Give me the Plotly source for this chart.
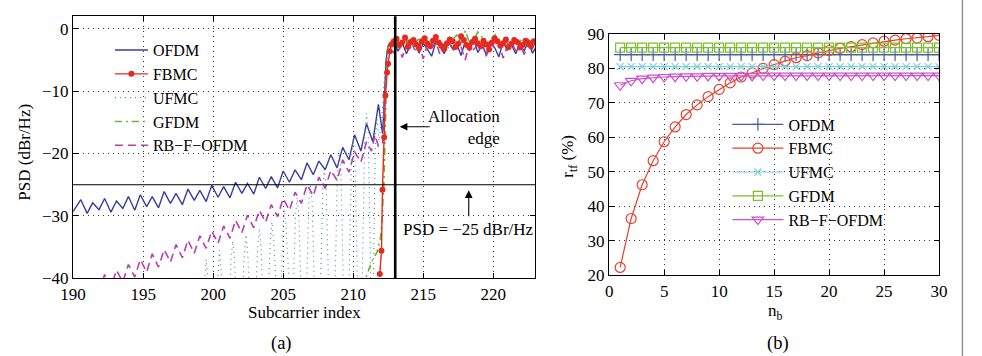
import plotly.graph_objects as go

FONT = "Liberation Serif"

# ---------------- panel (a): PSD vs subcarrier index ----------------
ofdm_x = [190.0, 190.55, 191.0, 191.4, 191.85, 192.25, 192.7, 193.1, 193.55, 193.95,
          194.4, 194.8, 195.25, 195.65, 196.1, 196.5, 196.95, 197.35, 197.8, 198.2,
          198.65, 199.05, 199.5, 199.9, 200.35, 200.75, 201.2, 201.6, 202.05, 202.45,
          202.9, 203.3, 203.75, 204.15, 204.6, 205.0, 205.45, 205.85, 206.3, 206.7,
          207.15, 207.55, 208.0, 208.4, 208.85, 209.25, 209.7, 210.1, 210.55, 210.95,
          211.4, 211.8, 212.1, 212.22, 212.35, 212.48]
ofdm_y = [-29.3, -27.4, -29.6, -27.9, -29.0, -27.2, -29.4, -27.6, -28.8, -26.9,
          -29.1, -26.6, -28.5, -26.9, -28.7, -26.1, -28.0, -26.4, -28.2, -25.7,
          -27.5, -25.9, -27.7, -25.1, -27.0, -25.3, -27.1, -24.6, -26.4, -24.8,
          -26.5, -23.8, -25.6, -23.7, -25.5, -22.8, -24.6, -22.6, -24.2, -21.5,
          -23.4, -21.2, -22.6, -20.2, -22.3, -19.0, -21.0, -17.0, -19.6, -15.2,
          -18.1, -12.1, -16.8, -11.0, -5.0, -2.8]

fbmc_x = [211.9, 212.02, 212.09, 212.21, 212.3, 212.42, 212.49, 212.61, 212.73,
          212.9, 213.1, 213.3, 213.5, 213.7, 213.9, 214.1, 214.3, 214.5, 214.7,
          214.9, 215.1, 215.3, 215.5, 215.7, 215.9, 216.1, 216.3, 216.5, 216.7,
          216.9, 217.1, 217.3, 217.5, 217.7, 217.9, 218.1, 218.3, 218.5, 218.7,
          218.9, 219.1, 219.3, 219.5, 219.7, 219.9, 220.1, 220.3, 220.5, 220.7,
          220.9, 221.1, 221.3, 221.5, 221.7, 221.9, 222.1, 222.3, 222.5, 222.7,
          222.9, 223.1]
fbmc_y = [-39.3, -35.6, -25.8, -17.4, -10.7, -7.0, -5.6, -3.6, -2.5,
          -2.0, -1.6, -2.6, -2.2, -1.4, -2.9, -2.1, -1.8, -2.5, -3.1,
          -2.0, -1.5, -2.4, -2.8, -1.9, -1.3, -2.2, -2.7, -3.2, -2.3,
          -1.7, -2.0, -2.9, -2.4, -1.2, -1.8, -2.6, -3.0, -2.1, -1.6,
          -2.3, -2.8, -1.9, -2.5, -3.3, -2.2, -1.5, -2.0, -2.7, -2.3,
          -1.7, -2.9, -2.4, -1.8, -2.1, -3.0, -2.6, -1.9, -2.2, -2.8,
          -2.0, -2.4]

ufmc_x = [199.12, 199.38, 199.5, 199.62, 199.88,
          200.07, 200.33, 200.45, 200.57, 200.83,
          201.02, 201.28, 201.4, 201.52, 201.78,
          201.97, 202.23, 202.35, 202.47, 202.73,
          202.92, 203.18, 203.3, 203.42, 203.68,
          203.82, 204.08, 204.2, 204.32, 204.58,
          204.72, 204.98, 205.1, 205.22, 205.48,
          205.62, 205.88, 206.0, 206.12, 206.38,
          206.57, 206.83, 206.95, 207.07, 207.33,
          207.57, 207.83, 207.95, 208.07, 208.33,
          208.62, 208.88, 209.0, 209.12, 209.38,
          209.62, 209.88, 210.0, 210.12, 210.38,
          210.57, 210.83, 210.95, 211.07, 211.33,
          211.42, 211.58, 211.7, 211.85, 212.05, 212.25, 212.42]
ufmc_y = [-50, -40.0, -37.0, -40.0, -50,
          -50, -38.5, -35.5, -38.5, -50,
          -50, -37.0, -34.0, -37.0, -50,
          -50, -36.0, -33.0, -36.0, -50,
          -50, -35.0, -32.0, -35.0, -50,
          -50, -34.0, -31.0, -34.0, -50,
          -50, -32.0, -29.0, -32.0, -50,
          -50, -30.0, -27.0, -30.0, -50,
          -50, -28.0, -25.0, -28.0, -50,
          -50, -25.5, -22.5, -25.5, -50,
          -50, -22.5, -19.5, -22.5, -50,
          -50, -20.5, -17.5, -20.5, -50,
          -50, -16.5, -13.5, -16.5, -50,
          -45, -17.5, -14.5, -18.0, -14.0, -7.0, -3.2]

gfdm_x = [210.7, 211.0, 211.35, 211.7, 211.95, 212.05, 212.2, 212.27, 212.39, 212.48]
gfdm_y = [-41.5, -39.3, -37.2, -35.8, -33.5, -31.0, -24.3, -17.3, -6.7, -3.2]

rbf_x = [191.4, 191.85, 192.25, 192.7, 193.1, 193.55, 193.95, 194.4, 194.8, 195.25,
         195.65, 196.1, 196.5, 196.95, 197.35, 197.8, 198.2, 198.65, 199.05, 199.5,
         199.9, 200.35, 200.75, 201.2, 201.6, 202.05, 202.45, 202.9, 203.3, 203.75,
         204.15, 204.6, 205.0, 205.45, 205.85, 206.3, 206.7, 207.15, 207.55, 208.0,
         208.4, 208.85, 209.25, 209.7, 210.1, 210.55, 210.95, 211.3, 211.55, 211.8,
         212.1, 212.25, 212.38, 212.5]
rbf_y = [-40.3, -42.2, -39.4, -41.4, -38.7, -40.6, -37.8, -39.8, -37.0, -39.0,
         -36.1, -38.2, -35.4, -37.4, -34.6, -36.7, -33.9, -36.0, -33.2, -35.2,
         -32.4, -34.4, -31.6, -33.6, -30.7, -32.7, -29.9, -31.9, -29.1, -31.0,
         -28.2, -30.1, -27.2, -29.1, -26.2, -28.0, -25.0, -26.8, -23.8, -25.6,
         -22.7, -24.3, -21.0, -23.0, -19.7, -21.4, -18.1, -19.6, -17.0, -18.8,
         -18.5, -11.0, -5.0, -2.9]

# in-band (allocated) part, shared grid
pass_x = [212.6, 212.9, 213.2, 213.5, 213.8, 214.1, 214.4, 214.7, 215.0, 215.3,
          215.6, 215.9, 216.2, 216.5, 216.8, 217.1, 217.4, 217.7, 218.0, 218.3,
          218.6, 218.9, 219.2, 219.5, 219.8, 220.1, 220.4, 220.7, 221.0, 221.3,
          221.6, 221.9, 222.2, 222.5, 222.8, 223.1]
ofdm_pass = [-2.4, -2.0, -3.6, -2.2, -4.0, -2.5, -1.8, -3.9, -2.3, -3.3,
             -4.4, -2.1, -2.8, -4.0, -1.9, -3.2, -2.4, -4.3, -2.0, -3.5,
             -1.7, -3.8, -2.6, -4.1, -2.2, -3.0, -4.5, -2.1, -3.4, -2.5,
             -4.0, -2.3, -3.6, -2.0, -3.9, -2.8]
ufmc_pass = [-2.6, -2.1, -3.0, -1.9, -2.7, -2.3, -1.7, -3.1, -2.2, -2.5,
             -1.8, -2.9, -2.0, -2.6, -1.6, -3.0, -2.3, -1.9, -2.7, -2.1,
             -1.5, -2.8, -2.4, -1.9, -2.6, -0.6, -2.2, -2.9, -1.8, -2.5,
             -2.0, -3.1, -2.3, -1.7, -2.6, -2.2]
gfdm_pass = [-2.3, -1.8, -2.9, -2.0, -1.5, -3.0, -2.2, -1.6, -2.6, -1.9,
             -2.8, -1.4, -2.4, -2.0, -3.1, -1.7, -1.0, -2.5, -0.3, -2.2,
             -1.8, -0.5, -1.3, -2.4, -1.9, -0.8, -2.6, -2.1, -1.5, -2.9,
             -2.0, -1.6, -2.7, -2.2, -1.8, -2.5]
rbf_pass = [-2.8, -3.9, -2.2, -4.6, -2.6, -1.9, -3.4, -2.3, -4.8, -2.5,
            -3.1, -2.0, -4.2, -2.7, -1.8, -3.6, -2.4, -2.9, -5.0, -2.2,
            -3.3, -2.6, -1.9, -4.4, -2.5, -3.0, -2.1, -4.7, -2.8, -2.2,
            -3.5, -2.0, -4.1, -2.6, -3.2, -2.4]

allocation_edge = 213
psd_threshold = -25

# ---------------- panel (b): r_tf vs n_b ----------------
nb = [1, 2, 3, 4, 5, 6, 7, 8, 9, 10, 11, 12, 13, 14, 15,
      16, 17, 18, 19, 20, 21, 22, 23, 24, 25, 26, 27, 28, 29, 30]
r_ofdm = [84.0, 84.0, 84.0, 84.0, 84.0, 84.0, 84.0, 84.0, 84.0, 84.0,
          84.0, 84.0, 84.0, 84.0, 84.0, 84.0, 84.0, 84.0, 84.0, 84.0,
          84.0, 84.0, 84.0, 84.0, 84.0, 84.0, 84.0, 84.0, 84.0, 84.0]
r_fbmc = [22.2, 36.4, 46.2, 53.2, 58.7, 63.0, 66.6, 69.4, 71.8, 73.9,
          75.8, 77.5, 78.7, 80.0, 81.1, 82.1, 83.1, 83.7, 84.5, 85.2,
          85.8, 86.3, 86.9, 87.4, 87.9, 88.2, 88.6, 88.8, 89.2, 89.6]
r_ufmc = [80.5, 80.5, 80.5, 80.5, 80.5, 80.5, 80.5, 80.5, 80.5, 80.5,
          80.5, 80.5, 80.5, 80.5, 80.5, 80.5, 80.5, 80.5, 80.5, 80.5,
          80.5, 80.5, 80.5, 80.5, 80.5, 80.5, 80.5, 80.5, 80.5, 80.5]
r_gfdm = [86.0, 86.0, 86.0, 86.0, 86.0, 86.0, 86.0, 86.0, 86.0, 86.0,
          86.0, 86.0, 86.0, 86.0, 86.0, 86.0, 86.0, 86.0, 86.0, 86.0,
          86.0, 86.0, 86.0, 86.0, 86.0, 86.0, 86.0, 86.0, 86.0, 86.0]
r_rbf = [75.1, 76.4, 77.0, 77.3, 77.5, 77.6, 77.7, 77.7, 77.8, 77.8,
         77.8, 77.8, 77.8, 77.9, 77.9, 77.9, 77.9, 77.9, 77.9, 77.9,
         77.9, 77.9, 77.9, 77.9, 77.9, 77.9, 77.9, 77.9, 77.9, 77.9]

names = ["OFDM", "FBMC", "UFMC", "GFDM", "RB\u2212F\u2212OFDM"]

# Page geometry as observed: the figure sits inside the page's 8px body margin and the
# captured view is scaled to the final picture. Positions below are given in
# final-picture pixels and converted to figure (paper) fractions.
OFF = 8
SX, SY = 982 / 998, 356 / 374
W, H = 982, 358
def fxp(s):
    return s / SX - OFF
def fyp(s):
    return s / SY - OFF
def px(s):
    return fxp(s) / W
def py(s):
    return 1 - fyp(s) / H

fig = go.Figure()

# panel (a) traces (drawing order differs from legend order)
fig.add_trace(go.Scatter(x=ofdm_x + pass_x, y=ofdm_y + ofdm_pass, name=names[0],
                         mode="lines", line=dict(color="#3a3d9e", width=1.4),
                         legend="legend", legendrank=1, xaxis="x", yaxis="y"))
fig.add_trace(go.Scatter(x=ufmc_x + pass_x, y=ufmc_y + ufmc_pass, name=names[2],
                         mode="lines", line=dict(color="#3f9292", width=1.1, dash="1px,4px"),
                         legend="legend", legendrank=3, xaxis="x", yaxis="y"))
fig.add_trace(go.Scatter(x=rbf_x + pass_x, y=rbf_y + rbf_pass, name=names[4],
                         mode="lines", line=dict(color="#b440b0", width=1.6, dash="8px,5px"),
                         legend="legend", legendrank=5, xaxis="x", yaxis="y"))
fig.add_trace(go.Scatter(x=gfdm_x + pass_x, y=gfdm_y + gfdm_pass, name=names[3],
                         mode="lines", line=dict(color="#6ab82a", width=1.6, dash="7px,4px,2px,4px"),
                         legend="legend", legendrank=4, xaxis="x", yaxis="y"))
fig.add_trace(go.Scatter(x=fbmc_x, y=fbmc_y, name=names[1],
                         mode="lines+markers", line=dict(color="#e52a1f", width=1.4),
                         marker=dict(color="#e52a1f", size=6, symbol="circle"),
                         legend="legend", legendrank=2, xaxis="x", yaxis="y"))

# panel (b) traces
b_series = [
    (r_ofdm, "#4a5aa8", "cross-thin-open", 9),
    (r_fbmc, "#e8402f", "circle-open", 10),
    (r_ufmc, "#7fcfdc", "x-thin-open", 7),
    (r_gfdm, "#7cbf2a", "square-open", 9),
    (r_rbf, "#cc4fcc", "triangle-down-open", 10),
]
for i, (vals, col, sym, sz) in enumerate(b_series):
    fig.add_trace(go.Scatter(x=nb, y=vals, name=names[i], mode="lines+markers",
                             line=dict(color=col, width=1.2),
                             marker=dict(symbol=sym, size=sz, color=col,
                                         line=dict(color=col, width=1.2)),
                             legend="legend2", legendrank=i + 1,
                             xaxis="x2", yaxis="y2"))

axis_common = dict(showline=True, linecolor="black", linewidth=1.3, mirror="allticks",
                   ticks="inside", ticklen=5, tickcolor="black", tickwidth=1,
                   showgrid=True, gridcolor="#333333", gridwidth=1, griddash="1px,4px",
                   zeroline=False, tickfont=dict(family=FONT, size=17, color="black"))

LEG_FONT = dict(family=FONT, size=16, color="black")
fig.update_layout(
    width=W, height=H,
    margin=dict(l=0, r=0, t=0, b=0),
    paper_bgcolor="white", plot_bgcolor="white",
    font=dict(family=FONT, size=17, color="black"),
    xaxis=dict(domain=[px(68.3), px(533)], range=[190, 223], tick0=190, dtick=5,
               anchor="y", **axis_common),
    yaxis=dict(domain=[py(278.3), py(15)], range=[-40, 2], tick0=-40, dtick=10,
               anchor="x", **axis_common),
    xaxis2=dict(domain=[px(607.3), px(939)], range=[0, 30], tick0=0, dtick=5,
                anchor="y2", **axis_common),
    yaxis2=dict(domain=[py(275), py(32.7)], range=[20, 90], tick0=20, dtick=10,
                anchor="x2", **axis_common),
    legend=dict(x=99 / W, y=1 - 25.5 / H, xanchor="left", yanchor="top",
                bgcolor="rgba(0,0,0,0)", borderwidth=0,
                font=LEG_FONT, itemwidth=33),
    legend2=dict(x=730 / W, y=1 - 104 / H, xanchor="left", yanchor="top",
                 bgcolor="rgba(0,0,0,0)", borderwidth=0,
                 font=LEG_FONT, itemwidth=51),
    showlegend=True,
)

# reference lines in panel (a)
fig.add_shape(type="line", xref="x", yref="y domain", x0=allocation_edge, x1=allocation_edge,
              y0=0, y1=1, line=dict(color="black", width=2.6))
fig.add_shape(type="line", xref="x domain", yref="y", x0=0, x1=1,
              y0=psd_threshold, y1=psd_threshold, line=dict(color="black", width=1))

# outer frame (right edge of the figure box)
fig.add_shape(type="line", xref="paper", yref="paper", x0=px(962.5), x1=px(962.5),
              y0=-0.05, y1=1.05, line=dict(color="#8a8a8a", width=1.3))

def note(text, x, y, **kw):
    d = dict(text=text, x=px(x), y=py(y), xref="paper", yref="paper", showarrow=False,
             xanchor="center", yanchor="middle", font=dict(size=17))
    d.update(kw)
    return d

ann = [
    note("Subcarrier index", 300.6, 313),
    note("PSD (dBr/Hz)", 20, 152, textangle=-90),
    note("n<sub>b</sub>", 775, 312),
    note("r<sub>tf</sub> (%)", 567, 156, textangle=-90),
    note("(a)", 278, 343.5, font=dict(size=18.5)),
    note("(b)", 777, 343.5, font=dict(size=18.5)),
    note("Allocation<br>edge", 500, 127, xanchor="right", align="right"),
    note("PSD = \u221225 dBr/Hz", 466, 229),
    dict(text="", x=213.32, y=-15.7, xref="x", yref="y", ax=215.57, ay=-15.7,
         axref="x", ayref="y", showarrow=True, arrowhead=2, arrowsize=1.4,
         arrowwidth=1.1, arrowcolor="black"),
    dict(text="", x=218.25, y=-25.9, xref="x", yref="y", ax=218.25, ay=-30.3,
         axref="x", ayref="y", showarrow=True, arrowhead=2, arrowsize=1.4,
         arrowwidth=1.1, arrowcolor="black"),
]
fig.update_layout(annotations=ann)

fig.write_html("out.html")
